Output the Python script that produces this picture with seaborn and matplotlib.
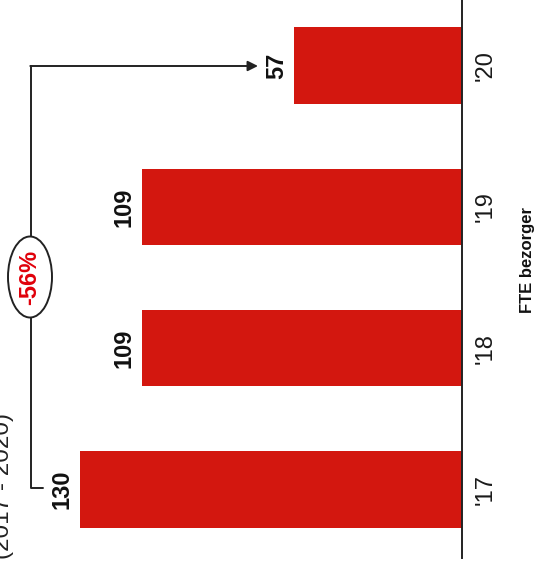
import matplotlib
matplotlib.use("Agg")
import matplotlib.pyplot as plt
import seaborn as sns
from matplotlib.lines import Line2D
from matplotlib.patches import Ellipse

# ---- data ----
years = ["'17", "'18", "'19", "'20"]
fte = [130, 109, 109, 57]
change_label = "-56%"
axis_title = "FTE bezorger"
subtitle = "(2017 - 2020)"

BAR_RED = "#d3170f"
TXT_RED = "#e0000a"

sns.set_style("white")
plt.rcParams["font.family"] = ["Liberation Sans", "DejaVu Sans"]

W, H = 538, 571
fig = plt.figure(figsize=(W / 100, H / 100), dpi=100)


def P(x, y):
    """figure pixel (top-left origin) -> figure fraction"""
    return x / W, 1 - y / H


# axes: right spine is the baseline of the (rotated) bar chart
base_px, bottom_px = 462, 558
ax = fig.add_axes([0, 1 - bottom_px / H, base_px / W, bottom_px / H])

sns.barplot(x=fte, y=years, orient="h", color=BAR_RED, width=0.538,
            saturation=1, linewidth=0, ax=ax)

px_per_unit = 2.94
ax.set_xlim(base_px / px_per_unit, 0)
spacing = 141.3
ax.set_ylim(-(bottom_px - 489.5) / spacing, 3 + 65.5 / spacing)

for s in ["top", "left", "bottom"]:
    ax.spines[s].set_visible(False)
ax.spines["right"].set_visible(True)
ax.spines["right"].set_color("#222222")
ax.spines["right"].set_linewidth(1.4)
ax.set_xticks([])
ax.set_xlabel("")

ax.yaxis.tick_right()
ax.tick_params(axis="y", length=0, pad=9, labelsize=17, labelcolor="#1a1a1a")
for lab in ax.get_yticklabels():
    lab.set_rotation(90)
    lab.set_ha("left")
    lab.set_va("center")

ax.yaxis.set_label_position("right")
ax.set_ylabel(axis_title, fontsize=12, fontweight="bold", rotation=90,
              color="#111111")
ax.yaxis.set_label_coords(520 / base_px, (bottom_px - 260) / bottom_px)

# value labels
ax.bar_label(ax.containers[0], labels=[str(v) for v in fte], padding=4.5,
             rotation=90, fontsize=17, fontweight="bold", color="#111111")

# bracket with arrow from first to last bar
lc = "#222222"
fig.add_artist(Line2D([P(43, 488)[0], P(31, 488)[0], P(31, 66)[0]],
                      [P(43, 488)[1], P(31, 488)[1], P(31, 66)[1]],
                      color=lc, lw=1.4, transform=fig.transFigure, zorder=3))
fig.add_artist(plt.Annotation("", xy=P(258, 66), xytext=P(30.3, 66),
                              xycoords=fig.transFigure, textcoords=fig.transFigure,
                              arrowprops=dict(arrowstyle="-|>", color=lc, lw=1.4,
                                              mutation_scale=15, shrinkA=0, shrinkB=0),
                              zorder=3))
cx, cy = P(30, 277)
fig.add_artist(Ellipse((cx, cy), 44 / W, 81 / H, facecolor="white",
                       edgecolor=lc, lw=1.4, transform=fig.transFigure, zorder=4))
fig.text(cx, cy, change_label, rotation=90, ha="center", va="center",
         color=TXT_RED, fontsize=17, fontweight="bold", zorder=5)

# subtitle, partly outside the picture (as in the reference)
sx, sy = P(14, 486)
fig.text(sx, sy, subtitle, rotation=90, ha="right", va="center",
         fontsize=17.5, color="#222222")

fig.savefig("out.png", dpi=100, facecolor="white")
